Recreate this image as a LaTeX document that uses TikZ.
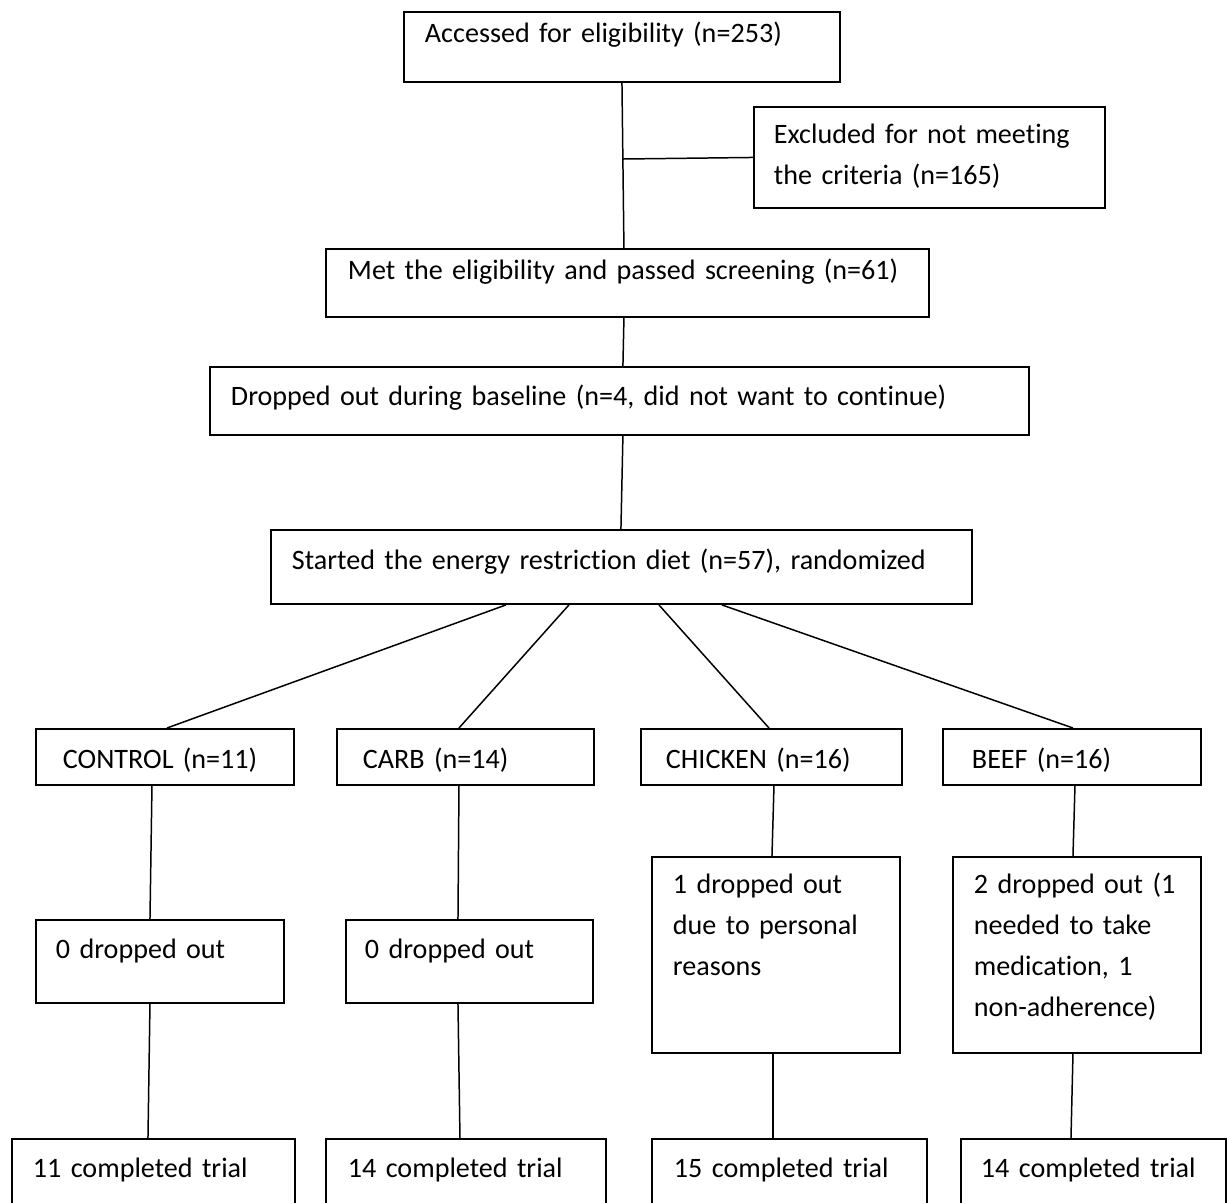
\documentclass[tikz,border=0pt]{standalone}
\usepackage{fontspec}
\setmainfont{Carlito}[Ligatures=NoCommon]
\usetikzlibrary{calc}

\begin{document}
\begin{tikzpicture}[x=0.02cm,y=-0.02cm,
	flowbox/.style={draw,line width=1.1pt,anchor=north west,align=left,inner ysep=0pt,font=\fontsize{16}{23.2}\selectfont},
	link/.style={line width=0.85pt}]
	\useasboundingbox (0,0) rectangle (1227,1203);

	%screening
	\node[flowbox,inner xsep=0.42cm,text width=7.88cm,text height=0.62cm,text depth=0.78cm] (acc) at (403,11) {\mbox{Accessed for eligibility (n=253)}};
	\node[flowbox,inner xsep=0.40cm,text width=6.22cm,text height=0.74cm,text depth=1.28cm] (excl) at (753,106) {Excluded for not meeting\\the criteria (n=165)};
	\node[flowbox,inner xsep=0.44cm,text width=11.18cm,text height=0.62cm,text depth=0.74cm] (met) at (325,248) {\mbox{Met the eligibility and passed screening (n=61)}};
	\node[flowbox,inner xsep=0.42cm,text width=15.54cm,text height=0.78cm,text depth=0.58cm] (base) at (209,366) {\mbox{Dropped out during baseline (n=4, did not want to continue)}};
	\node[flowbox,inner xsep=0.42cm,text width=13.18cm,text height=0.80cm,text depth=0.68cm] (start) at (270,529) {\mbox{Started the energy restriction diet (n=57), randomized}};

	%groups
	\node[flowbox,inner xsep=0.54cm,text width=4.08cm,text height=0.80cm,text depth=0.32cm] (ctrl) at (35,728) {CONTROL (n=11)};
	\node[flowbox,inner xsep=0.52cm,text width=4.10cm,text height=0.80cm,text depth=0.32cm] (carb) at (336,728) {CARB (n=14)};
	\node[flowbox,inner xsep=0.50cm,text width=4.22cm,text height=0.80cm,text depth=0.32cm] (chick) at (640,728) {CHICKEN (n=16)};
	\node[flowbox,inner xsep=0.58cm,text width=4.00cm,text height=0.80cm,text depth=0.32cm] (beef) at (942,728) {BEEF (n=16)};

	%drop outs
	\node[flowbox,inner xsep=0.40cm,text width=4.16cm,text height=0.78cm,text depth=0.88cm] (ctrlout) at (35,919) {0 dropped out};
	\node[flowbox,inner xsep=0.38cm,text width=4.18cm,text height=0.78cm,text depth=0.88cm] (carbout) at (345,919) {0 dropped out};
	\node[flowbox,inner xsep=0.42cm,text width=4.12cm,text height=0.74cm,text depth=3.18cm] (chickout) at (651,856) {1 dropped out\\due to personal\\reasons};
	\node[flowbox,inner xsep=0.42cm,text width=4.12cm,text height=0.74cm,text depth=3.18cm] (beefout) at (952,856) {2 dropped out (1\\needed to take\\medication, 1\\non-adherence)};

	%completed
	\node[flowbox,inner xsep=0.42cm,text width=4.82cm,text height=0.78cm,text depth=0.86cm] (ctrlend) at (11,1138) {11 completed trial};
	\node[flowbox,inner xsep=0.44cm,text width=4.72cm,text height=0.78cm,text depth=0.86cm] (carbend) at (325,1138) {14 completed trial};
	\node[flowbox,inner xsep=0.44cm,text width=4.62cm,text height=0.78cm,text depth=0.86cm] (chickend) at (651,1138) {15 completed trial};
	\node[flowbox,inner xsep=0.40cm,text width=4.50cm,text height=0.78cm,text depth=0.86cm] (beefend) at (960,1138) {14 completed trial};

	%trunk
	\coordinate (t1) at ([xshift=4.38cm]acc.south west);
	\coordinate (t2) at ([xshift=5.98cm]met.north west);
	\draw[link] (t1) -- (t2);
	\draw[link] (excl.west) -- ($(t1)!(excl.west)!(t2)$);
	\draw[link] ([xshift=5.98cm]met.south west) -- ([xshift=8.28cm]base.north west);
	\draw[link] ([xshift=8.28cm]base.south west) -- ([xshift=7.02cm]start.north west);

	%randomization
	\draw[link] ([xshift=4.72cm]start.south west) -- ([xshift=2.64cm]ctrl.north west);
	\draw[link] ([xshift=5.98cm]start.south west) -- ([xshift=2.46cm]carb.north west);
	\draw[link] ([xshift=7.78cm]start.south west) -- ([xshift=2.58cm]chick.north west);
	\draw[link] ([xshift=9.04cm]start.south west) -- ([xshift=2.62cm]beef.north west);

	%columns
	\draw[link] ([xshift=2.34cm]ctrl.south west) -- ([xshift=2.30cm]ctrlout.north west);
	\draw[link] ([xshift=2.30cm]ctrlout.south west) -- ([xshift=2.74cm]ctrlend.north west);
	\draw[link] ([xshift=2.46cm]carb.south west) -- ([xshift=2.26cm]carbout.north west);
	\draw[link] ([xshift=2.26cm]carbout.south west) -- ([xshift=2.70cm]carbend.north west);
	\draw[link] ([xshift=2.68cm]chick.south west) -- ([xshift=2.42cm]chickout.north west);
	\draw[link] ([xshift=2.44cm]chickout.south west) -- ([xshift=2.44cm]chickend.north west);
	\draw[link] ([xshift=2.66cm]beef.south west) -- ([xshift=2.42cm]beefout.north west);
	\draw[link] ([xshift=2.42cm]beefout.south west) -- ([xshift=2.22cm]beefend.north west);
\end{tikzpicture}
\end{document}
